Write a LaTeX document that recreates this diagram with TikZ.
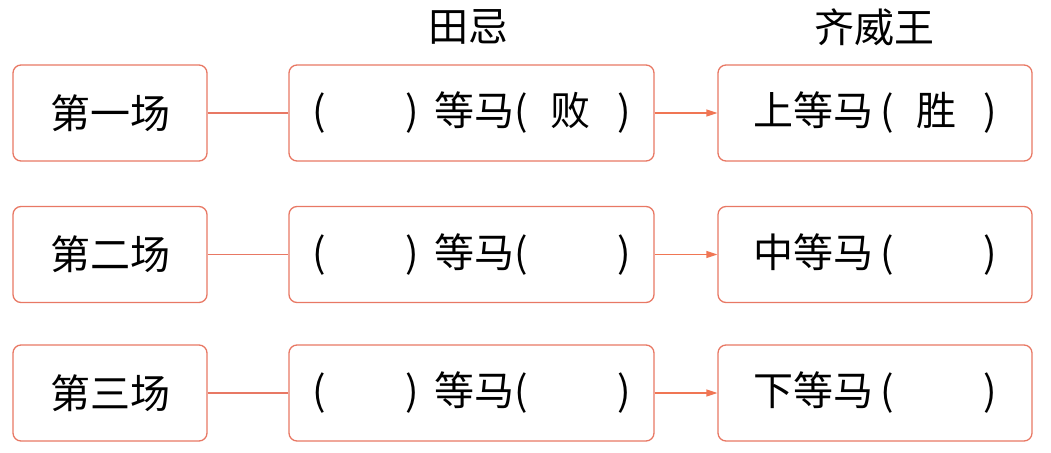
\documentclass[tikz,border=0pt]{standalone}
\usepackage{fontspec}
\setmainfont{Noto Sans CJK SC}
\usetikzlibrary{arrows.meta}

\definecolor{boxred}{RGB}{232,120,100}
\definecolor{arrowred}{RGB}{240,118,84}

% one blank or filled pair of brackets
\newcommand{\slot}[1]{(\hspace{22pt}#1\hspace{27pt})}
\newcommand{\gap}{\hspace{80pt}}

\begin{document}
\begin{tikzpicture}
  [
    x = 1pt, y = -1pt,
    every node/.style = {inner sep=0pt, font=\fontsize{40}{44}\selectfont},
    game/.style  = {draw=boxred, line width=1.3pt, rounded corners=8pt,
                    minimum width=194pt, minimum height=96pt},
    tian/.style  = {game, minimum width=365pt},
    qi/.style    = {game, minimum width=314pt},
    link/.style  = {draw=boxred, line width=1.3pt},
    pass/.style  = {draw=arrowred, line width=1.3pt, -{Triangle[length=11pt, width=7pt]}}
  ]
  \useasboundingbox (0,0) rectangle (1051,452);
  % column heads
  \node (HeadT) at (468,27) {田忌};
  \node (HeadQ) at (874,27) {齐威王};
  % rows
  \node [game] (G1) at (110,113)   {第一场};
  \node [game] (G2) at (110,254.5) {第二场};
  \node [game] (G3) at (110,393)   {第三场};
  \node [tian] (T1) at (471.5,113)   {(\gap)\hspace{15pt}等马\slot{败}};
  \node [tian] (T2) at (471.5,254.5) {(\gap)\hspace{15pt}等马\slot{\phantom{败}}};
  \node [tian] (T3) at (471.5,393)   {(\gap)\hspace{15pt}等马\slot{\phantom{败}}};
  \node [qi] (Q1) at (875,113)   {上等马\hspace{7pt}\slot{胜}};
  \node [qi] (Q2) at (875,254.5) {中等马\hspace{7pt}\slot{\phantom{胜}}};
  \node [qi] (Q3) at (875,393)   {下等马\hspace{7pt}\slot{\phantom{胜}}};
  \foreach \i in {1,2,3} {
    \path [link] (G\i) -- (T\i);
    \path [pass] (T\i) -- (Q\i);
  }
\end{tikzpicture}
\end{document}
